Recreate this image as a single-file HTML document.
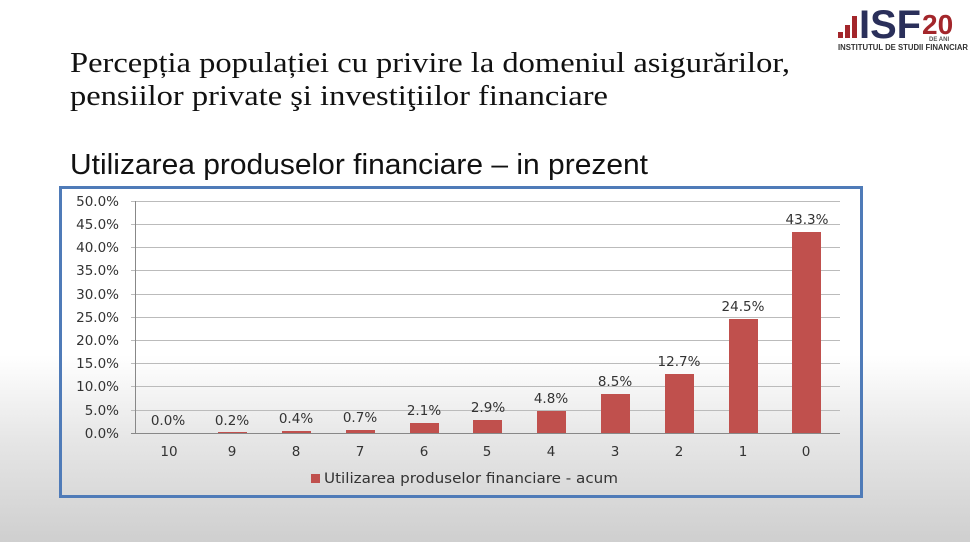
<!DOCTYPE html>
<html><head><meta charset="utf-8"><style>
html,body{margin:0;padding:0;width:970px;height:542px;overflow:hidden}
body{background:linear-gradient(to bottom,#fff 0px,#fff 355px,#e6e6e6 440px,#cfcfcf 542px)}
svg{position:absolute;left:0;top:0}
</style></head><body>
<svg width="970" height="542" xmlns="http://www.w3.org/2000/svg">
<text x="70" y="72" font-family="Liberation Serif,serif" font-size="29" fill="#111" textLength="720" lengthAdjust="spacingAndGlyphs">Percepția populației cu privire la domeniul asigurărilor,</text>
<text x="70" y="105" font-family="Liberation Serif,serif" font-size="29" fill="#111" textLength="538" lengthAdjust="spacingAndGlyphs">pensiilor private şi investiţiilor financiare</text>
<text x="70" y="174" font-family="Liberation Sans,sans-serif" font-size="29" fill="#111" textLength="578" lengthAdjust="spacingAndGlyphs">Utilizarea produselor financiare – in prezent</text>
<!-- logo -->
<rect x="838" y="32" width="5" height="6" fill="#a3262b"/><rect x="845" y="25" width="5" height="13" fill="#a3262b"/><rect x="852" y="16" width="5" height="22" fill="#a3262b"/>
<text x="859" y="38" font-family="Liberation Sans,sans-serif" font-weight="bold" font-size="40" fill="#2a2f5a" textLength="62" lengthAdjust="spacingAndGlyphs">ISF</text>
<text x="922" y="34" font-family="Liberation Sans,sans-serif" font-weight="bold" font-size="28" fill="#a3262b">20</text>
<text x="929" y="41" font-family="Liberation Sans,sans-serif" font-weight="bold" font-size="6" fill="#555">DE ANI</text>
<text x="838" y="50" font-family="Liberation Sans,sans-serif" font-weight="bold" font-size="8" fill="#333" textLength="130" lengthAdjust="spacingAndGlyphs">INSTITUTUL DE STUDII FINANCIAR</text>
<!-- chart box -->
<rect x="60.5" y="187.5" width="801" height="309" fill="none" stroke="#4f7bb8" stroke-width="3"/>
<g stroke="#bbb" stroke-width="1">
<line x1="131" y1="201.5" x2="840" y2="201.5"/><line x1="131" y1="224.5" x2="840" y2="224.5"/><line x1="131" y1="247.5" x2="840" y2="247.5"/><line x1="131" y1="270.5" x2="840" y2="270.5"/><line x1="131" y1="294.5" x2="840" y2="294.5"/><line x1="131" y1="317.5" x2="840" y2="317.5"/><line x1="131" y1="340.5" x2="840" y2="340.5"/><line x1="131" y1="363.5" x2="840" y2="363.5"/><line x1="131" y1="386.5" x2="840" y2="386.5"/><line x1="131" y1="410.5" x2="840" y2="410.5"/>
</g>
<g stroke="#888" stroke-width="1">
<line x1="135.5" y1="201" x2="135.5" y2="433"/><line x1="131" y1="433.5" x2="840" y2="433.5"/>
</g>
<g font-family="DejaVu Sans,sans-serif" font-size="13.5" fill="#333" text-anchor="end">
<text x="119" y="206">50.0%</text><text x="119" y="229">45.0%</text><text x="119" y="252">40.0%</text><text x="119" y="275">35.0%</text><text x="119" y="299">30.0%</text><text x="119" y="322">25.0%</text><text x="119" y="345">20.0%</text><text x="119" y="368">15.0%</text><text x="119" y="391">10.0%</text><text x="119" y="415">5.0%</text><text x="119" y="438">0.0%</text>
</g>
<g fill="#c0504d">
<rect x="218" y="432" width="29" height="1"/><rect x="282" y="431" width="29" height="2"/><rect x="346" y="430" width="29" height="3"/><rect x="410" y="423" width="29" height="10"/><rect x="473" y="420" width="29" height="13"/><rect x="537" y="411" width="29" height="22"/><rect x="601" y="394" width="29" height="39"/><rect x="665" y="374" width="29" height="59"/><rect x="729" y="319" width="29" height="114"/><rect x="792" y="232" width="29" height="201"/>
</g>
<g font-family="DejaVu Sans,sans-serif" font-size="13.5" fill="#333" text-anchor="middle">
<text x="168" y="425">0.0%</text><text x="232" y="425">0.2%</text><text x="296" y="423">0.4%</text><text x="360" y="422">0.7%</text><text x="424" y="415">2.1%</text><text x="488" y="412">2.9%</text><text x="551" y="403">4.8%</text><text x="615" y="386">8.5%</text><text x="679" y="366">12.7%</text><text x="743" y="311">24.5%</text><text x="807" y="224">43.3%</text>
<text x="169" y="456">10</text><text x="232" y="456">9</text><text x="296" y="456">8</text><text x="360" y="456">7</text><text x="424" y="456">6</text><text x="487" y="456">5</text><text x="551" y="456">4</text><text x="615" y="456">3</text><text x="679" y="456">2</text><text x="743" y="456">1</text><text x="806" y="456">0</text>
</g>
<rect x="311" y="474" width="9" height="9" fill="#c0504d"/>
<text x="324" y="483" font-family="DejaVu Sans,sans-serif" font-size="14.5" fill="#333" textLength="294" lengthAdjust="spacingAndGlyphs">Utilizarea produselor financiare - acum</text>
</svg>
</body></html>
